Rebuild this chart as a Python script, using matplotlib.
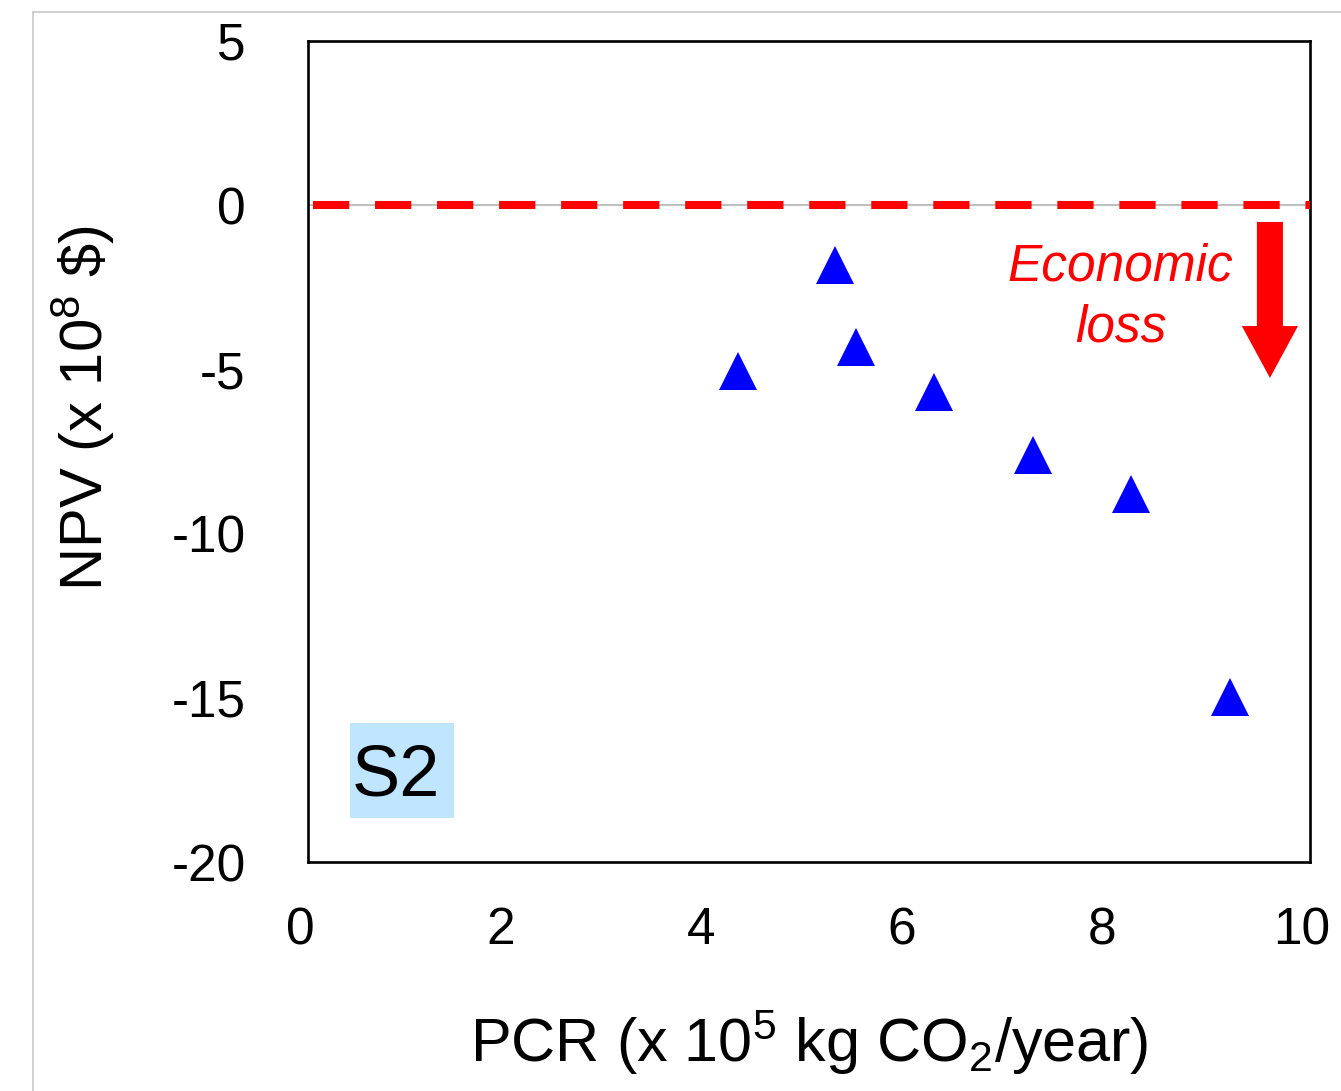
import matplotlib
matplotlib.use("Agg")
import matplotlib.pyplot as plt
from matplotlib.patches import FancyArrow, Rectangle
from matplotlib.lines import Line2D
from matplotlib.transforms import ScaledTranslation

plt.rcParams['font.family'] = ['Liberation Sans', 'DejaVu Sans']
plt.rcParams['mathtext.fontset'] = 'custom'
plt.rcParams['mathtext.rm'] = 'Liberation Sans'
plt.rcParams['mathtext.it'] = 'Liberation Sans:italic'
plt.rcParams['mathtext.default'] = 'regular'
plt.rcParams['axes.unicode_minus'] = False

# Data
pcr = [4.29, 5.26, 5.47, 6.25, 7.24, 8.21, 9.20]
npv = [-5.05, -1.82, -4.32, -5.69, -7.61, -8.80, -14.98]
x_ticks = [0, 2, 4, 6, 8, 10]
y_ticks = [5, 0, -5, -10, -15, -20]

fig = plt.figure(figsize=(13.41, 10.91), dpi=100)
ax = fig.add_axes([308/1341, 229/1091, 1002/1341, 821/1091])

ax.set_xlim(0, 10)
ax.set_ylim(-20, 5)
ax.set_xticks(x_ticks)
ax.set_yticks(y_ticks)
ax.tick_params(axis='both', length=0, labelsize=37)
ax.tick_params(axis='y', pad=45)
ax.tick_params(axis='x', pad=32)
shift = ScaledTranslation(-8/100, 0, fig.dpi_scale_trans)
for lbl in ax.get_xticklabels():
    lbl.set_transform(lbl.get_transform() + shift)
for s in ax.spines.values():
    s.set_linewidth(1.9)
    s.set_color('black')

# zero line (grey) + red dashed line
ax.axhline(0, color='#BFBFBF', lw=1.5, zorder=2)
ax.plot([0.05, 10], [0, 0], color='#FF0000', lw=5.8, linestyle=(0, (4.5, 3.2)),
        solid_capstyle='butt', dash_capstyle='butt', zorder=3)

# points
ax.plot(pcr, npv, linestyle='none', marker='^', markersize=27,
        color='#0000FF', markeredgewidth=0, zorder=4)

# arrow
arr = FancyArrow(9.60, -0.51, 0, -4.75, width=0.26, head_width=0.56,
                 head_length=1.58, length_includes_head=True,
                 color='#FF0000', lw=0, zorder=4)
ax.add_patch(arr)

ax.text(8.11, -2.80, 'Economic\nloss', color='#FF0000', fontstyle='italic',
        fontsize=37, ha='center', va='center', linespacing=1.32, zorder=5)

# S2 label
ax.add_patch(Rectangle((0.42, -18.66), 1.04, 2.89, facecolor='#C0E6FF',
                       edgecolor='none', zorder=2))
ax.text(0.88, -17.41, 'S2', fontsize=52, ha='center', va='center', zorder=5)

ax.set_xlabel(r'PCR (x 10$^{5}$ kg CO$_{2}$/year)', fontsize=44)
ax.xaxis.set_label_coords(0.5, -0.178)
ax.set_ylabel(r'NPV (x 10$^{8}$ $\$$)', fontsize=43)
ax.yaxis.set_label_coords(-0.1906, 0.553)

# figure border (cropped screenshot frame)
fig.add_artist(Line2D([33/1341, 1.0], [1-12/1091, 1-12/1091], color='#C8C8C8', lw=1.2,
                      transform=fig.transFigure))
fig.add_artist(Line2D([33/1341, 33/1341], [0.0, 1-12/1091], color='#C8C8C8', lw=1.2,
                      transform=fig.transFigure))

fig.savefig('out.png', dpi=100)
